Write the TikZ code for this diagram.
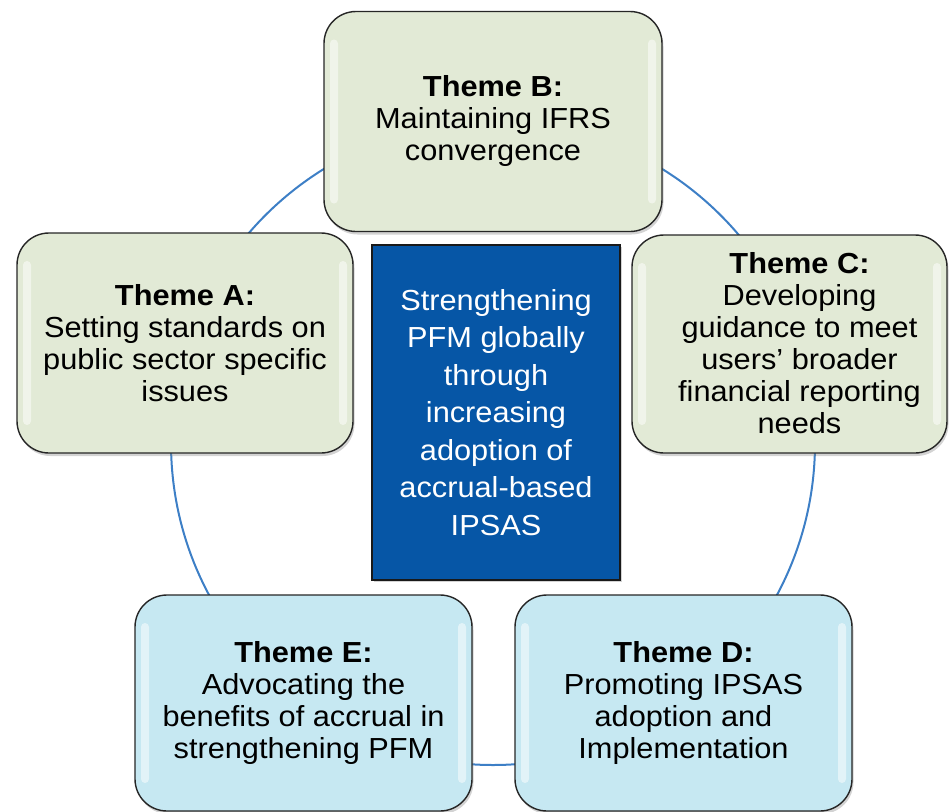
\documentclass[tikz,border=0pt]{standalone}
\usepackage{fontspec}
\setmainfont{Liberation Sans}[FakeStretch=1.06]
\usetikzlibrary{shadows}
\definecolor{ringblue}{HTML}{3D7FC6}
\definecolor{themegreen}{HTML}{E2EAD6}
\definecolor{themeblue}{HTML}{C6E8F2}
\definecolor{corefill}{HTML}{0656A6}
\begin{document}
\begin{tikzpicture}[x=1pt,y=-1pt,
  theme/.style={draw=black!85, line width=1.4pt, rounded corners=32pt,
    align=center, font=\fontsize{29}{32}\selectfont, text=black,
    inner sep=0pt,
    drop shadow={shadow xshift=1.5pt, shadow yshift=-3pt, opacity=0.35},
    path picture={
      \fill[white, opacity=0.5, rounded corners=4pt]
        ([xshift=6pt, yshift=-28pt]path picture bounding box.north west)
        rectangle ([xshift=14pt, yshift=28pt]path picture bounding box.south west);
      \fill[white, opacity=0.5, rounded corners=4pt]
        ([xshift=-6pt, yshift=-28pt]path picture bounding box.north east)
        rectangle ([xshift=-14pt, yshift=28pt]path picture bounding box.south east);
    }},
  greentheme/.style={theme, fill=themegreen},
  bluetheme/.style={theme, fill=themeblue},
  core/.style={draw=black!90, line width=1.4pt, fill=corefill, text=white,
    align=center, font=\fontsize{29}{37.5}\selectfont, inner sep=0pt,
    drop shadow={shadow xshift=1.5pt, shadow yshift=-2pt, opacity=0.35}},
  ring/.style={draw=ringblue, line width=2pt}
]
\useasboundingbox (0,0) rectangle (950,811);
\coordinate (ringc) at (493,443);
\draw[ring] (ringc) circle[radius=322];

\node[greentheme, minimum width=338, minimum height=220] (B) at (493,121.5)
  {\textbf{Theme B:}\\Maintaining IFRS\\convergence};
\node[greentheme, minimum width=336, minimum height=220] (A) at (185,343)
  {\textbf{Theme A:}\\Setting standards on\\public sector specific\\issues};
\node[greentheme, minimum width=315, minimum height=218] (C) at (789.5,344)
  {\raisebox{-3pt}[\height][\depth]{\begin{tabular}{@{\hspace{20pt}}c@{}}\textbf{Theme C:}\\Developing\\guidance to meet\\users’ broader\\financial reporting\\needs\end{tabular}}};
\node[bluetheme, minimum width=337, minimum height=216] (E) at (303.5,703)
  {\textbf{Theme E:}\\Advocating the\\benefits of accrual in\\strengthening PFM};
\node[bluetheme, minimum width=337, minimum height=216] (D) at (683.5,703)
  {\textbf{Theme D:}\\Promoting IPSAS\\adoption and\\Implementation};
\node[core, minimum width=248, minimum height=335] (core) at (496,412.5)
  {Strengthening\\PFM globally\\through\\increasing\\adoption of\\accrual-based\\IPSAS};
\end{tikzpicture}
\end{document}
